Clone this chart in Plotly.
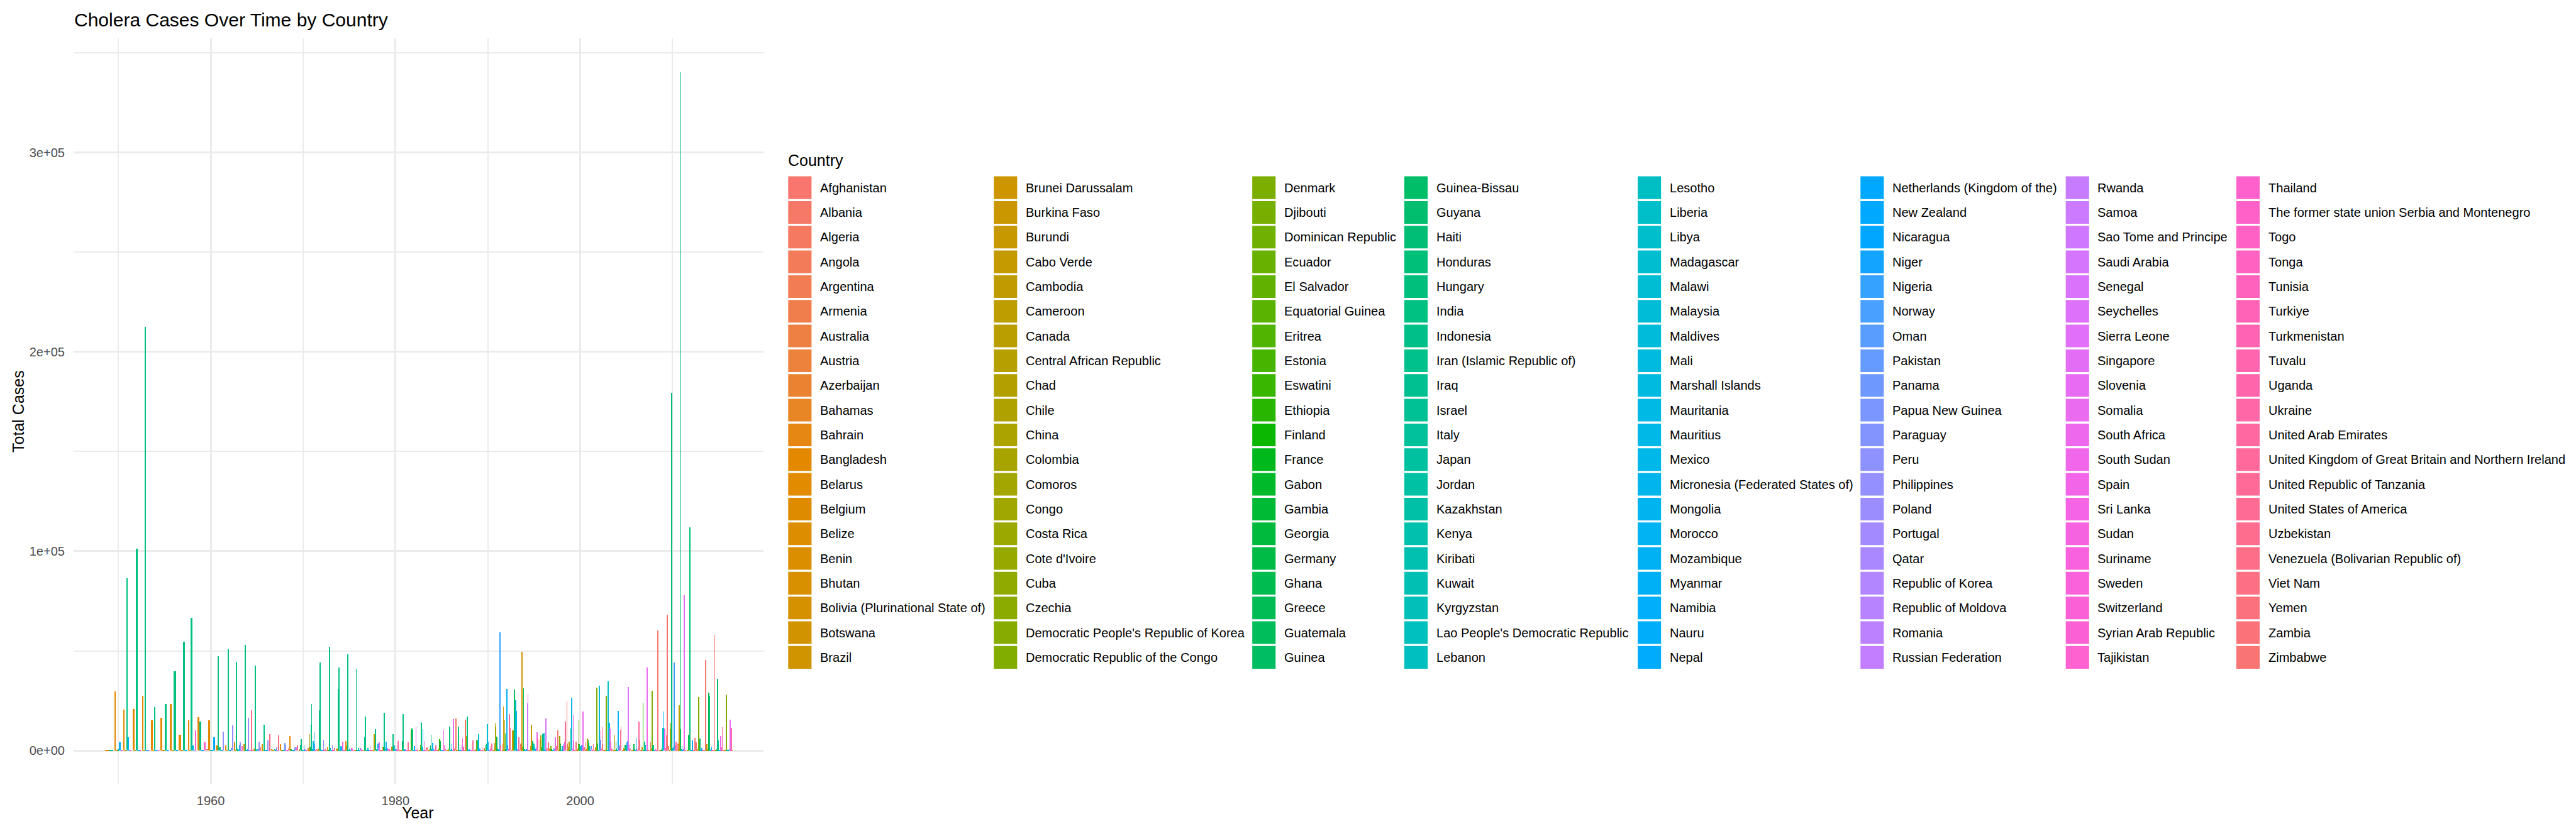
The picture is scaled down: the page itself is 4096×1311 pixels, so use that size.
import math
import plotly.graph_objects as go

# ---------------- data ----------------
countries = [
    "Afghanistan", "Albania", "Algeria", "Angola", "Argentina", "Armenia", "Australia", "Austria", "Azerbaijan", "Bahamas",
    "Bahrain", "Bangladesh", "Belarus", "Belgium", "Belize", "Benin", "Bhutan", "Bolivia (Plurinational State of)", "Botswana", "Brazil",
    "Brunei Darussalam", "Burkina Faso", "Burundi", "Cabo Verde", "Cambodia", "Cameroon", "Canada", "Central African Republic", "Chad", "Chile",
    "China", "Colombia", "Comoros", "Congo", "Costa Rica", "Cote d'Ivoire", "Cuba", "Czechia", "Democratic People's Republic of Korea", "Democratic Republic of the Congo",
    "Denmark", "Djibouti", "Dominican Republic", "Ecuador", "El Salvador", "Equatorial Guinea", "Eritrea", "Estonia", "Eswatini", "Ethiopia",
    "Finland", "France", "Gabon", "Gambia", "Georgia", "Germany", "Ghana", "Greece", "Guatemala", "Guinea",
    "Guinea-Bissau", "Guyana", "Haiti", "Honduras", "Hungary", "India", "Indonesia", "Iran (Islamic Republic of)", "Iraq", "Israel",
    "Italy", "Japan", "Jordan", "Kazakhstan", "Kenya", "Kiribati", "Kuwait", "Kyrgyzstan", "Lao People's Democratic Republic", "Lebanon",
    "Lesotho", "Liberia", "Libya", "Madagascar", "Malawi", "Malaysia", "Maldives", "Mali", "Marshall Islands", "Mauritania",
    "Mauritius", "Mexico", "Micronesia (Federated States of)", "Mongolia", "Morocco", "Mozambique", "Myanmar", "Namibia", "Nauru", "Nepal",
    "Netherlands (Kingdom of the)", "New Zealand", "Nicaragua", "Niger", "Nigeria", "Norway", "Oman", "Pakistan", "Panama", "Papua New Guinea",
    "Paraguay", "Peru", "Philippines", "Poland", "Portugal", "Qatar", "Republic of Korea", "Republic of Moldova", "Romania", "Russian Federation",
    "Rwanda", "Samoa", "Sao Tome and Principe", "Saudi Arabia", "Senegal", "Seychelles", "Sierra Leone", "Singapore", "Slovenia", "Somalia",
    "South Africa", "South Sudan", "Spain", "Sri Lanka", "Sudan", "Suriname", "Sweden", "Switzerland", "Syrian Arab Republic", "Tajikistan",
    "Thailand", "The former state union Serbia and Montenegro", "Togo", "Tonga", "Tunisia", "Turkiye", "Turkmenistan", "Tuvalu", "Uganda", "Ukraine",
    "United Arab Emirates", "United Kingdom of Great Britain and Northern Ireland", "United Republic of Tanzania", "United States of America", "Uzbekistan", "Venezuela (Bolivarian Republic of)", "Viet Nam", "Yemen", "Zambia", "Zimbabwe",
]

alias = {
    "DRC": "Democratic Republic of the Congo",
    "Tanzania": "United Republic of Tanzania",
    "Iran": "Iran (Islamic Republic of)",
    "Korea": "Republic of Korea",
    "Syria": "Syrian Arab Republic",
    "Bolivia": "Bolivia (Plurinational State of)",
}

cases_1940s = {
    1949: {"Bangladesh": 150, "India": 250},
}

cases_1950s = {
    1950: {"Bangladesh": 29700, "Cambodia": 60, "India": 500, "Myanmar": 4000, "Thailand": 50},
    1951: {"Bangladesh": 20650, "Cambodia": 40, "India": 86400, "Myanmar": 6500, "Pakistan": 100, "Thailand": 30},
    1952: {"Bangladesh": 20900, "Cambodia": 30, "India": 101100, "Myanmar": 200, "Thailand": 20},
    1953: {"Bangladesh": 27300, "Cambodia": 50, "India": 212700, "Myanmar": 60, "Pakistan": 90, "Thailand": 10},
    1954: {"Bangladesh": 15300, "Cambodia": 20, "India": 21800, "Myanmar": 80, "Pakistan": 40, "Thailand": 10},
    1955: {"Bangladesh": 16400, "Cambodia": 30, "India": 23200, "Myanmar": 100},
    1956: {"Bangladesh": 23300, "Cambodia": 40, "India": 39600, "Myanmar": 90},
    1957: {"Bangladesh": 7800, "Cambodia": 50, "India": 54700, "Myanmar": 70},
    1958: {"Bangladesh": 15300, "Cambodia": 60, "India": 66500, "Myanmar": 2400, "Pakistan": 150, "Thailand": 10200},
    1959: {"Bangladesh": 16700, "India": 14600, "Myanmar": 100, "Thailand": 4100},
}

cases_1960s = {
    1960: {"Afghanistan": 700, "Bangladesh": 15300, "India": 150, "Myanmar": 300, "Nepal": 6500},
    1961: {"Bangladesh": 2500, "India": 47200, "Indonesia": 1700, "Nepal": 100, "Philippines": 9600},
    1962: {"Bangladesh": 2500, "Cambodia": 50, "India": 50800, "Nepal": 200, "Pakistan": 1200, "Philippines": 12700},
    1963: {"Bangladesh": 4000, "Brunei Darussalam": 30, "Cambodia": 80, "India": 44600, "Indonesia": 1000, "Iran": 50,
           "Malaysia": 500, "Myanmar": 2800, "Philippines": 4000, "Korea": 40, "Sri Lanka": 60, "Thailand": 2300},
    1964: {"Bangladesh": 3300, "Cambodia": 40, "India": 52900, "Indonesia": 200, "Iran": 30, "Malaysia": 300,
           "Myanmar": 600, "Philippines": 16300, "Korea": 20, "Sri Lanka": 50, "Thailand": 300, "Viet Nam": 20100},
    1965: {"Afghanistan": 40, "Bangladesh": 1000, "Cambodia": 30, "India": 42700, "Indonesia": 500, "Malaysia": 100,
           "Myanmar": 800, "Pakistan": 60, "Philippines": 4500, "Thailand": 100, "Viet Nam": 1700},
    1966: {"Bangladesh": 3100, "Cambodia": 50, "India": 12900, "Indonesia": 300, "Malaysia": 80, "Myanmar": 400,
           "Nepal": 100, "Philippines": 5200, "Thailand": 200, "Viet Nam": 8300},
    1967: {"Bangladesh": 700, "Brunei Darussalam": 20, "Cambodia": 60, "India": 700, "Myanmar": 100,
           "Philippines": 1500, "Thailand": 50, "Viet Nam": 7600},
    1968: {"Bangladesh": 3100, "Brunei Darussalam": 20, "Cambodia": 40, "India": 300, "Indonesia": 100, "Myanmar": 200,
           "Pakistan": 3800, "Philippines": 2700, "Korea": 20, "Sri Lanka": 30, "Thailand": 100, "Viet Nam": 1000},
    1969: {"Bangladesh": 7400, "Cambodia": 50, "India": 500, "Indonesia": 200, "Malaysia": 100, "Myanmar": 300,
           "Nepal": 100, "Pakistan": 1500, "Philippines": 1400, "Korea": 1500, "Thailand": 800, "Viet Nam": 2600},
}

cases_1970s = {
    1970: {"Afghanistan": 50, "China": 300, "Cote d'Ivoire": 800, "Guinea": 2700, "India": 5800, "Indonesia": 150,
           "Iran": 300, "Iraq": 200, "Lebanon": 60, "Malaysia": 80, "Myanmar": 2600, "Nepal": 100, "Philippines": 700,
           "Russian Federation": 400, "Sri Lanka": 40, "Thailand": 200, "Viet Nam": 150},
    1971: {"Algeria": 1200, "Bangladesh": 500, "Burkina Faso": 300, "Cameroon": 1500, "Chad": 8100, "Cote d'Ivoire": 600,
           "Ghana": 2000, "Guinea": 200, "India": 12900, "Indonesia": 23400, "Iran": 400, "Liberia": 600, "Malaysia": 100,
           "Mali": 4600, "Mauritania": 200, "Myanmar": 300, "Niger": 9100, "Nigeria": 3400, "Philippines": 400,
           "Senegal": 100, "Thailand": 200, "Togo": 300, "Viet Nam": 700},
    1972: {"Afghanistan": 100, "Bangladesh": 1000, "Cameroon": 200, "Chad": 100, "India": 20300, "Indonesia": 44200,
           "Iran": 300, "Malaysia": 800, "Mali": 200, "Myanmar": 400, "Nepal": 150, "Niger": 100, "Nigeria": 300,
           "Philippines": 5500, "Sri Lanka": 80, "Thailand": 300, "Uganda": 500, "Viet Nam": 1000},
    1973: {"Afghanistan": 100, "Bangladesh": 1900, "Cameroon": 1000, "Chad": 200, "Ghana": 150, "India": 41500,
           "Indonesia": 52000, "Iran": 200, "Malaysia": 1200, "Myanmar": 200, "Nepal": 300, "Nigeria": 250,
           "Philippines": 2700, "Sri Lanka": 60, "Thailand": 200, "Togo": 80, "Uganda": 800, "Viet Nam": 1300},
    1974: {"Afghanistan": 80, "Bangladesh": 800, "Benin": 1000, "China": 500, "Ghana": 200, "India": 30800,
           "Indonesia": 41500, "Iran": 300, "Kenya": 150, "Malaysia": 100, "Myanmar": 2200, "Nepal": 1800,
           "Nigeria": 300, "Philippines": 2500, "Sri Lanka": 4500, "Thailand": 200, "Viet Nam": 300},
    1975: {"Afghanistan": 200, "Bangladesh": 4800, "Burundi": 2600, "Cameroon": 150, "Ghana": 100, "India": 48300,
           "Indonesia": 400, "Iran": 200, "Kenya": 300, "Malaysia": 1000, "Myanmar": 300, "Nepal": 200,
           "Philippines": 1000, "Sri Lanka": 1300, "Sudan": 1100, "Thailand": 150, "Viet Nam": 200},
    1976: {"Afghanistan": 100, "Bangladesh": 200, "Burundi": 150, "India": 41100, "Indonesia": 300, "Iran": 200,
           "Kenya": 400, "Malaysia": 1300, "Myanmar": 250, "Nepal": 300, "Philippines": 1200, "Sri Lanka": 700,
           "Thailand": 1000, "Tanzania": 200, "Viet Nam": 150},
    1977: {"Afghanistan": 150, "Bangladesh": 200, "India": 6500, "Indonesia": 17000, "Iran": 400, "Jordan": 100,
           "Kenya": 300, "Lebanon": 100, "Malaysia": 1200, "Myanmar": 300, "Nepal": 200, "Philippines": 300,
           "Syria": 2300, "Thailand": 250, "Tanzania": 150, "Viet Nam": 100},
    1978: {"Afghanistan": 100, "Bangladesh": 300, "Burundi": 800, "Cameroon": 8300, "Cote d'Ivoire": 3400, "DRC": 1800,
           "India": 10700, "Indonesia": 700, "Iran": 200, "Kenya": 300, "Malaysia": 200, "Myanmar": 3400, "Nepal": 1500,
           "Philippines": 1300, "Somalia": 4100, "Sri Lanka": 100, "Thailand": 200, "Tanzania": 400, "Zambia": 300},
    1979: {"Afghanistan": 100, "Bangladesh": 2000, "Burundi": 200, "Ghana": 1800, "India": 18800, "Iran": 300,
           "Kenya": 300, "Malaysia": 1000, "Myanmar": 4500, "Nepal": 200, "Philippines": 1200, "Somalia": 150,
           "Sri Lanka": 200, "Thailand": 700, "Uganda": 700, "Tanzania": 300, "Viet Nam": 100},
}

cases_1980s = {
    1980: {"Afghanistan": 100, "Bangladesh": 1900, "Burundi": 300, "India": 8300, "Indonesia": 1500, "Kenya": 300,
           "Malawi": 2600, "Malaysia": 200, "Myanmar": 1000, "Nepal": 200, "Philippines": 700, "Somalia": 200,
           "Sri Lanka": 100, "Thailand": 300, "Uganda": 4300, "Tanzania": 5200, "Viet Nam": 800, "Zambia": 100},
    1981: {"Afghanistan": 100, "Bangladesh": 300, "Burundi": 200, "DRC": 2200, "Ghana": 4600, "India": 18300,
           "Kenya": 400, "Malawi": 800, "Myanmar": 300, "Nepal": 200, "Philippines": 500, "Somalia": 100,
           "Sri Lanka": 100, "Thailand": 200, "Uganda": 200, "Tanzania": 4100, "Zambia": 150},
    1982: {"Afghanistan": 100, "Bangladesh": 200, "Burundi": 300, "DRC": 10300, "Ghana": 11000, "Guinea": 4600,
           "India": 10300, "Kenya": 300, "Malawi": 200, "Mozambique": 700, "Myanmar": 2200, "Nepal": 200,
           "Philippines": 300, "South Africa": 11900, "Thailand": 200, "Uganda": 100, "Tanzania": 400, "Zambia": 1400},
    1983: {"Afghanistan": 100, "Bangladesh": 200, "Burundi": 200, "DRC": 3000, "Ghana": 14100, "India": 13800,
           "Kenya": 300, "Malawi": 2000, "Mozambique": 10700, "Nepal": 100, "Philippines": 200, "Somalia": 100,
           "South Africa": 4600, "Thailand": 200, "Uganda": 100, "Tanzania": 300, "Zambia": 1400, "Zimbabwe": 1700},
    1984: {"Afghanistan": 100, "Bangladesh": 200, "Burundi": 300, "DRC": 200, "Ghana": 1100, "Guinea": 2400,
           "India": 7900, "Kenya": 200, "Malawi": 600, "Mali": 1700, "Mozambique": 3800, "Myanmar": 700, "Nepal": 150,
           "Philippines": 200, "Somalia": 100, "South Africa": 600, "Thailand": 200, "Tanzania": 2600, "Zambia": 100},
    1985: {"Afghanistan": 100, "Bangladesh": 200, "Burundi": 200, "Cameroon": 1100, "Ethiopia": 5700, "Ghana": 4600,
           "India": 1400, "Kenya": 300, "Malawi": 100, "Mali": 300, "Mozambique": 400, "Nepal": 100,
           "Philippines": 150, "Somalia": 10200, "Sudan": 2700, "Thailand": 200, "Tanzania": 800, "Zambia": 700},
    1986: {"Afghanistan": 100, "Bangladesh": 200, "Burundi": 200, "Cameroon": 300, "DRC": 1000, "Ghana": 4100,
           "India": 11900, "Kenya": 400, "Malawi": 200, "Mali": 800, "Mozambique": 3600, "Nepal": 100,
           "Philippines": 300, "Somalia": 15800, "Thailand": 100, "Tanzania": 400, "Zambia": 1100},
    1987: {"Angola": 16200, "Benin": 400, "Burundi": 200, "Cameroon": 200, "Ghana": 6000, "India": 11900,
           "Kenya": 300, "Malawi": 400, "Mali": 1500, "Mozambique": 300, "Nepal": 100, "Philippines": 200,
           "Somalia": 3000, "Sudan": 6400, "Thailand": 100, "Tanzania": 1900, "Zambia": 150},
    1988: {"Angola": 15500, "Burundi": 300, "Chad": 7200, "India": 17000, "Kenya": 200, "Malawi": 300, "Mali": 100,
           "Mozambique": 500, "Nepal": 100, "Philippines": 300, "Sudan": 100, "Thailand": 100, "Uganda": 300,
           "Tanzania": 5200, "Zambia": 200},
    1989: {"Afghanistan": 100, "Angola": 600, "Bangladesh": 200, "Burundi": 300, "DRC": 5500, "Ghana": 5500,
           "India": 5200, "Kenya": 200, "Liberia": 800, "Malawi": 8300, "Mozambique": 600, "Nepal": 1000,
           "Philippines": 200, "Somalia": 100, "Thailand": 100, "Uganda": 300, "Tanzania": 2000, "Zambia": 200},
}

cases_1990s = {
    1990: {"Afghanistan": 100, "Angola": 1200, "Bangladesh": 200, "Burundi": 400, "Cameroon": 300, "Ghana": 3000,
           "India": 3400, "Kenya": 200, "Malawi": 13400, "Mali": 2000, "Mozambique": 4500, "Nepal": 200,
           "Nigeria": 400, "Philippines": 200, "Somalia": 100, "Sudan": 700, "Thailand": 100, "Uganda": 2200,
           "Tanzania": 3600},
    1991: {"Afghanistan": 100, "Angola": 400, "Bolivia": 200, "Brazil": 300, "Burundi": 500, "Cameroon": 3900,
           "Chad": 13800, "Colombia": 11900, "Cote d'Ivoire": 3900, "El Salvador": 300, "Ghana": 6900,
           "Guatemala": 400, "Guinea": 1000, "Kenya": 200, "Liberia": 700, "Malawi": 800, "Mexico": 400,
           "Mozambique": 300, "Nepal": 100, "Nigeria": 59400, "Somalia": 100, "Tanzania": 2400, "Zambia": 400},
    1992: {"Afghanistan": 100, "Angola": 3600, "Benin": 200, "Bolivia": 22200, "Burundi": 300, "Cameroon": 200,
           "Colombia": 15200, "El Salvador": 8600, "Ghana": 500, "Honduras": 300, "Kenya": 200, "Malawi": 300,
           "Mozambique": 30800, "Myanmar": 2400, "Nicaragua": 300, "Philippines": 500, "Somalia": 100,
           "Thailand": 100, "Tanzania": 18400, "Viet Nam": 4100, "Zambia": 11500},
    1993: {"Afghanistan": 100, "Angola": 300, "Bolivia": 10200, "Brazil": 2200, "Colombia": 700, "Ecuador": 10000,
           "Guatemala": 30500, "Honduras": 200, "India": 12000, "Malawi": 25200, "Mexico": 19800, "Nepal": 300,
           "Nicaragua": 500, "Philippines": 700, "Somalia": 200, "Sri Lanka": 100, "Tanzania": 6700, "Zambia": 300},
    1994: {"Afghanistan": 3400, "Angola": 300, "Bolivia": 300, "Brazil": 49400, "Burundi": 3000, "Cameroon": 200,
           "Colombia": 1100, "Ecuador": 1700, "Ghana": 31300, "Guatemala": 400, "India": 500, "Kenya": 300,
           "Malawi": 400, "Mexico": 400, "Mozambique": 300, "Nepal": 400, "Nicaragua": 800, "Nigeria": 200,
           "Rwanda": 23800, "Sierra Leone": 900, "Somalia": 28300, "Tanzania": 300, "Zambia": 200},
    1995: {"Afghanistan": 100, "Angola": 300, "Benin": 2200, "Burkina Faso": 12900, "Cameroon": 200,
           "Cote d'Ivoire": 2100, "Ghana": 4600, "Guinea": 2100, "India": 400, "Malawi": 3400, "Mali": 2000,
           "Mexico": 300, "Nicaragua": 200, "Nigeria": 1000, "Peru": 300, "Senegal": 500, "Somalia": 9100,
           "Uganda": 6000, "Zambia": 100},
    1996: {"Afghanistan": 200, "Angola": 300, "Benin": 5500, "Burkina Faso": 7600, "Chad": 4300, "DRC": 7600,
           "Ecuador": 300, "Ghana": 1600, "Guatemala": 200, "Guinea-Bissau": 8200, "India": 500, "Kenya": 4300,
           "Malawi": 8800, "Mali": 1200, "Mexico": 300, "Nepal": 200, "Nigeria": 2700, "Senegal": 16000,
           "Somalia": 300, "Tanzania": 400, "Zambia": 1000},
    1997: {"Afghanistan": 4100, "Angola": 200, "Burkina Faso": 1000, "Burundi": 900, "Cameroon": 200, "DRC": 2300,
           "Ecuador": 300, "Ghana": 600, "Guinea": 300, "India": 400, "Kenya": 300, "Malawi": 300,
           "Mozambique": 1200, "Nigeria": 1000, "Rwanda": 300, "Senegal": 200, "Somalia": 6600, "Uganda": 300,
           "Zambia": 2300},
    1998: {"Afghanistan": 10000, "Angola": 500, "Burkina Faso": 400, "Cameroon": 200, "Chad": 300, "DRC": 7200,
           "Ghana": 300, "Guinea": 3400, "India": 300, "Kenya": 400, "Madagascar": 400, "Malawi": 2100,
           "Mozambique": 300, "Nigeria": 3400, "Rwanda": 3000, "Senegal": 200, "Somalia": 4300, "Togo": 3000,
           "Tanzania": 14500, "Zambia": 1000},
    1999: {"Afghanistan": 24600, "Angola": 3400, "Benin": 200, "Burundi": 1800, "Cameroon": 300, "Chad": 4500,
           "DRC": 500, "Ghana": 400, "Guinea": 200, "India": 400, "Kenya": 10900, "Malawi": 26500, "Nigeria": 26300,
           "Rwanda": 1000, "Senegal": 200, "Somalia": 17700, "Sudan": 5200, "Uganda": 300, "Tanzania": 300,
           "Zambia": 300},
}

cases_2000s = {
    2000: {"Afghanistan": 4300, "Angola": 300, "Benin": 200, "Burundi": 1000, "Cameroon": 200, "Comoros": 3200,
           "DRC": 15000, "Ghana": 3200, "India": 300, "Kenya": 400, "Madagascar": 2300, "Malawi": 1800,
           "Mozambique": 300, "Nigeria": 2700, "Somalia": 300, "South Africa": 19600, "Uganda": 300,
           "Tanzania": 400, "Zambia": 1500},
    2001: {"Afghanistan": 200, "Angola": 4500, "Benin": 300, "Burkina Faso": 1000, "Cameroon": 5200, "Chad": 5900,
           "DRC": 400, "Ghana": 5500, "Guinea": 3900, "India": 2300, "Kenya": 400, "Madagascar": 300,
           "Malawi": 400, "Mozambique": 400, "Nigeria": 2300, "Rwanda": 1000, "Somalia": 1000, "Uganda": 300,
           "Tanzania": 300, "Zambia": 3100},
    2002: {"Afghanistan": 200, "Angola": 300, "Burundi": 1600, "Cameroon": 300, "Chad": 200, "DRC": 31700,
           "Ghana": 3600, "Guinea": 3400, "India": 300, "Kenya": 400, "Madagascar": 200, "Malawi": 32600,
           "Nigeria": 5400, "Somalia": 300, "South Africa": 10000, "Togo": 1000, "Uganda": 1000,
           "Tanzania": 11900, "Zambia": 3100},
    2003: {"Afghanistan": 100, "Angola": 300, "Burundi": 200, "Cameroon": 200, "Chad": 300, "DRC": 27300,
           "Ghana": 400, "Guinea": 300, "India": 300, "Kenya": 300, "Liberia": 34600, "Malawi": 600,
           "Mozambique": 13900, "Nigeria": 400, "Somalia": 11000, "South Africa": 3800, "Uganda": 4400,
           "Tanzania": 300, "Zambia": 1000},
    2004: {"Afghanistan": 200, "Angola": 300, "Benin": 300, "Burundi": 300, "Cameroon": 7900, "Chad": 200,
           "DRC": 100, "Ghana": 4600, "Guinea": 1000, "India": 400, "Kenya": 300, "Liberia": 400, "Malawi": 400,
           "Mozambique": 19900, "Nigeria": 2100, "Senegal": 1000, "Somalia": 300, "Togo": 2700, "Uganda": 3300,
           "Tanzania": 10400, "Zambia": 12100},
    2005: {"Afghanistan": 200, "Angola": 300, "Benin": 400, "Burkina Faso": 1200, "Cameroon": 1000, "Chad": 300,
           "DRC": 400, "Ghana": 3000, "Guinea": 3000, "India": 400, "Kenya": 300, "Mauritania": 4200,
           "Mozambique": 400, "Nigeria": 4600, "Senegal": 31800, "Sierra Leone": 3500, "Somalia": 3000,
           "Uganda": 300, "Tanzania": 400, "Zambia": 1000},
    2006: {"Afghanistan": 100, "Burkina Faso": 200, "Burundi": 300, "Cameroon": 300, "DRC": 400, "Ghana": 3100,
           "India": 500, "Kenya": 400, "Malawi": 300, "Mozambique": 6300, "Nigeria": 1000, "Somalia": 400,
           "Sudan": 400, "Togo": 200, "Uganda": 1000, "Tanzania": 14400, "Zambia": 5400},
    2007: {"Afghanistan": 200, "Angola": 400, "Burundi": 300, "Cameroon": 1600, "DRC": 800, "Ethiopia": 24000,
           "Ghana": 300, "Guinea": 400, "India": 900, "Iraq": 4500, "Kenya": 200, "Liberia": 2900, "Malawi": 200,
           "Mozambique": 300, "Nigeria": 400, "Somalia": 41600, "Sudan": 13600, "Uganda": 300, "Tanzania": 400,
           "Zambia": 300},
    2008: {"Afghanistan": 200, "Angola": 4300, "Burundi": 1000, "Cameroon": 400, "DRC": 30100, "Ghana": 2500,
           "Guinea": 500, "India": 3000, "Kenya": 400, "Malawi": 300, "Mozambique": 400, "Nigeria": 400,
           "Somalia": 1000, "Togo": 400, "Uganda": 300, "Tanzania": 300, "Zambia": 400, "Zimbabwe": 60200},
    2009: {"Afghanistan": 300, "Angola": 200, "Cameroon": 400, "DRC": 400, "Ghana": 1000, "Guinea": 300,
           "India": 400, "Kenya": 11400, "Malawi": 5600, "Mozambique": 19600, "Nigeria": 1900, "Somalia": 10900,
           "Togo": 1200, "Uganda": 400, "Tanzania": 300, "Zambia": 7500, "Zimbabwe": 68200},
}

cases_2010s = {
    2010: {"Afghanistan": 2300, "Angola": 300, "Benin": 400, "Cameroon": 10600, "Chad": 6200, "DRC": 13800,
           "Ghana": 400, "Haiti": 179300, "India": 1200, "Kenya": 300, "Mozambique": 400, "Niger": 1700,
           "Nigeria": 44300, "Pakistan": 800, "Togo": 300, "Uganda": 3000, "Tanzania": 4400, "Zambia": 300},
    2011: {"Afghanistan": 3600, "Benin": 300, "Burundi": 300, "Cameroon": 22700, "Chad": 17600, "Congo": 500,
           "Ghana": 10600, "Haiti": 340300, "India": 500, "Kenya": 400, "Mali": 2300, "Mozambique": 400,
           "Niger": 300, "Nigeria": 500, "Pakistan": 100, "Somalia": 77900, "Togo": 200, "Uganda": 100,
           "Tanzania": 300, "Zambia": 400},
    2012: {"Benin": 300, "Burkina Faso": 100, "Cameroon": 200, "Ghana": 7900, "Guinea": 6900, "Haiti": 112000,
           "India": 4700, "Kenya": 400, "Mali": 300, "Mozambique": 400, "Niger": 5100, "Nigeria": 400,
           "Somalia": 400, "Uganda": 400, "Tanzania": 300, "Zambia": 6300},
    2013: {"Afghanistan": 4100, "Angola": 300, "Benin": 300, "Burundi": 300, "Cameroon": 1000, "DRC": 26800,
           "Ghana": 100, "Haiti": 6000, "Malawi": 200, "Mozambique": 300, "Nepal": 300, "Niger": 1300,
           "Nigeria": 200, "Somalia": 400, "Togo": 200, "Tanzania": 300, "Zambia": 200},
    2014: {"Afghanistan": 45500, "Benin": 300, "Burundi": 300, "Cameroon": 3200, "Chad": 200, "DRC": 400,
           "Dominican Republic": 500, "Ghana": 28900, "Haiti": 27500, "India": 400, "Kenya": 300,
           "Mozambique": 300, "Nepal": 1000, "Niger": 2000, "Somalia": 400, "Togo": 200, "Tanzania": 300,
           "Zambia": 200},
    2015: {"Afghanistan": 58000, "Benin": 300, "Burundi": 300, "Cameroon": 300, "DRC": 400, "Ghana": 500,
           "Haiti": 36000, "India": 400, "Iraq": 5000, "Kenya": 400, "Malawi": 300, "Mozambique": 300,
           "Niger": 200, "Nigeria": 5300, "Somalia": 7400, "South Sudan": 400, "Uganda": 1500,
           "Tanzania": 11700, "Zambia": 200},
    2016: {"Afghanistan": 200, "Angola": 300, "Benin": 300, "Burundi": 300, "Cameroon": 200, "DRC": 28000,
           "Ghana": 100, "India": 400, "Iraq": 100, "Kenya": 700, "Malawi": 300, "Mozambique": 300, "Niger": 200,
           "Nigeria": 700, "Somalia": 15400, "South Sudan": 400, "Uganda": 300, "Tanzania": 11300, "Zambia": 100},
}

x_tick_vals = [1960, 1980, 2000]
x_tick_text = ["1960", "1980", "2000"]
x_minor_vals = [1950, 1970, 1990, 2010]
y_tick_vals = [0, 100000, 200000, 300000]
y_tick_text = ["0e+00", "1e+05", "2e+05", "3e+05"]
y_minor_vals = [50000, 150000, 250000, 350000]

title_text = "Cholera Cases Over Time by Country"
x_title = "Year"
y_title = "Total Cases"
legend_title = "Country"


# ---------------- colours (ggplot2 hue palette) ----------------
def hcl_hex(h, c=100.0, l=65.0):
    WX, WY, WZ = 95.047, 100.0, 108.883
    hr = math.radians(h)
    U = c * math.cos(hr)
    V = c * math.sin(hr)
    Y = WY * (((l + 16) / 116) ** 3 if l > 7.999592 else l / 903.3)
    t = WX + WY + WZ
    x = WX / t
    y = WY / t
    uN = 2 * x / (6 * y - x + 1.5)
    vN = 4.5 * y / (6 * y - x + 1.5)
    u = U / (13 * l) + uN
    v = V / (13 * l) + vN
    X = 9.0 * Y * u / (4 * v)
    Z = -X / 3 - 5 * Y + 3 * Y / v

    def g(val):
        val = 1.055 * val ** (1 / 2.4) - 0.055 if val > 0.00304 else 12.92 * val
        return min(1.0, max(0.0, val))

    r = g((3.240479 * X - 1.537150 * Y - 0.498535 * Z) / WY)
    gg = g((-0.969256 * X + 1.875992 * Y + 0.041556 * Z) / WY)
    b = g((0.055648 * X - 0.204043 * Y + 1.057311 * Z) / WY)
    return "#%02X%02X%02X" % (int(255 * r + 0.5), int(255 * gg + 0.5), int(255 * b + 0.5))


n_c = len(countries)
palette = [hcl_hex(15 + 360.0 * i / n_c) for i in range(n_c)]
idx_of = {name: i for i, name in enumerate(countries)}

# ---------------- dodged bars (ggplot position_dodge, width 0.9) ----------------
all_years = {}
for block in (cases_1940s, cases_1950s, cases_1960s, cases_1970s, cases_1980s, cases_1990s, cases_2000s, cases_2010s):
    all_years.update(block)

bx, by, bw, bc, bn = [], [], [], [], []
for year in sorted(all_years):
    entries = sorted((idx_of[alias.get(k, k)], v) for k, v in all_years[year].items())
    m = len(entries)
    w = 0.9 / m
    for j, (ci, v) in enumerate(entries):
        bx.append(year - 0.45 + w * (j + 0.5))
        by.append(v)
        bw.append(w)
        bc.append(palette[ci])
        bn.append(countries[ci])

y_max = max(by)
y_range = [-0.05 * y_max, 1.05 * y_max]
x_lo = min(all_years) - 0.45
x_hi = max(all_years) + 0.45
x_pad = 0.05 * (x_hi - x_lo)
x_range = [x_lo - x_pad, x_hi + x_pad]

# ---------------- geometry (pixels in 4096x1311 output) ----------------
W, H = 4096, 1311
S = W / 7500.0
PL, PR, PT, PB = 199 * S, 2209 * S, 97 * S, 2270 * S
FONT = "Liberation Sans, Arial, Helvetica, sans-serif"


def px_x(px):
    return (px - PL) / (PR - PL)


def px_y(py):
    return (PB - py) / (PB - PT)


fig = go.Figure()
fig.add_trace(go.Bar(
    x=bx, y=by, width=bw,
    marker=dict(color=bc, line=dict(width=0)),
    customdata=bn,
    hovertemplate="%{customdata}<br>%{x:.0f}: %{y}<extra></extra>",
    showlegend=False,
))

grid_col = "#EBEBEB"
fig.update_xaxes(
    range=x_range, tickmode="array", tickvals=x_tick_vals, ticktext=x_tick_text,
    showgrid=True, gridcolor=grid_col, gridwidth=5.9 * S,
    minor=dict(tickmode="array", tickvals=x_minor_vals, showgrid=True, gridcolor=grid_col, gridwidth=2.95 * S),
    zeroline=False, showline=False, ticks="outside", ticklen=8, tickcolor="rgba(0,0,0,0)",
    tickfont=dict(family=FONT, size=36.7 * S, color="#4D4D4D"),
)
fig.update_yaxes(
    range=y_range, tickmode="array", tickvals=y_tick_vals, ticktext=y_tick_text,
    showgrid=True, gridcolor=grid_col, gridwidth=5.9 * S,
    minor=dict(tickmode="array", tickvals=y_minor_vals, showgrid=True, gridcolor=grid_col, gridwidth=2.95 * S),
    zeroline=False, showline=False, ticks="outside", ticklen=9, tickcolor="rgba(0,0,0,0)",
    tickfont=dict(family=FONT, size=36.7 * S, color="#4D4D4D"),
)

annotations = []
shapes = []

# title and axis titles
annotations.append(dict(text=title_text, xref="paper", yref="paper", x=px_x(199 * S), y=px_y(23.5),
                        xanchor="left", yanchor="middle", showarrow=False, borderpad=0,
                        font=dict(family=FONT, size=55 * S, color="black")))
annotations.append(dict(text=x_title, xref="paper", yref="paper", x=px_x(1202 * S), y=px_y(2353 * S),
                        xanchor="center", yanchor="middle", showarrow=False, borderpad=0,
                        font=dict(family=FONT, size=45.8 * S, color="black")))
annotations.append(dict(text=y_title, xref="paper", yref="paper", x=px_x(38 * S), y=px_y(1184 * S),
                        xanchor="center", yanchor="middle", showarrow=False, textangle=-90, borderpad=0,
                        font=dict(family=FONT, size=45.8 * S, color="black")))

# legend (drawn like ggplot's 20-row, column-major guide)
col_left_full = [2281, 2880, 3633, 4076, 4756, 5405, 6003, 6500]
rows_per_col = 20
annotations.append(dict(text=legend_title, xref="paper", yref="paper", x=px_x(2279 * S), y=px_y(453 * S),
                        xanchor="left", yanchor="middle", showarrow=False, borderpad=0,
                        font=dict(family=FONT, size=45.8 * S, color="black")))
for i, name in enumerate(countries):
    col, row = divmod(i, rows_per_col)
    x0 = col_left_full[col] * S
    y0 = (499 + 72 * row) * S
    x1 = x0 + 68 * S
    y1 = y0 + 66 * S
    shapes.append(dict(type="rect", xref="paper", yref="paper", x0=px_x(x0), x1=px_x(x1), y0=px_y(y1), y1=px_y(y0),
                       fillcolor=palette[i], line=dict(width=0), layer="above"))
    annotations.append(dict(text=name, xref="paper", yref="paper", x=px_x(x0 + 91 * S), y=px_y((y0 + y1) / 2),
                            xanchor="left", yanchor="middle", showarrow=False, borderpad=0,
                            font=dict(family=FONT, size=36.7 * S, color="black")))

fig.update_layout(
    width=W, height=H, autosize=False,
    margin=dict(l=PL, r=W - PR, t=PT, b=H - PB, pad=0),
    plot_bgcolor="white", paper_bgcolor="white",
    showlegend=False, bargap=0,
    font=dict(family=FONT),
    annotations=annotations, shapes=shapes,
)

fig.write_html("out.html")
